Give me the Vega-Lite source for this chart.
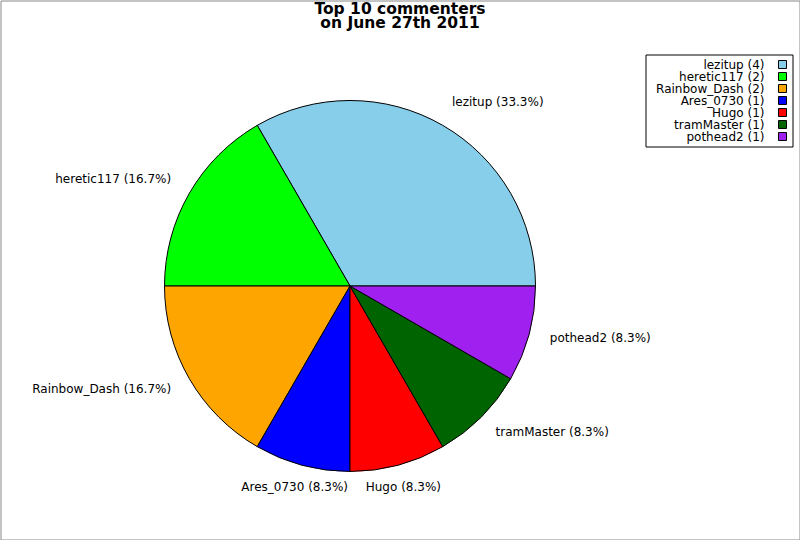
{
  "$schema": "https://vega.github.io/schema/vega-lite/v6.json",
  "width": 799,
  "height": 539,
  "padding": 0.5,
  "autosize": {"type": "none"},
  "background": "white",
  "view": {"stroke": "#888888", "strokeWidth": 1},
  "title": {
    "text": ["Top 10 commenters", "on June 27th 2011"],
    "font": "DejaVu Sans",
    "fontSize": 15.5,
    "fontWeight": "bold",
    "lineHeight": 14,
    "color": "black",
    "anchor": "middle",
    "frame": "group",
    "offset": -31
  },
  "data": {
    "values": [
      {"name": "lezitup", "count": 4, "rank": 1, "legend": "lezitup (4)", "label": "lezitup (33.3%)"},
      {"name": "heretic117", "count": 2, "rank": 2, "legend": "heretic117 (2)", "label": "heretic117 (16.7%)"},
      {"name": "Rainbow_Dash", "count": 2, "rank": 3, "legend": "Rainbow_Dash (2)", "label": "Rainbow_Dash (16.7%)"},
      {"name": "Ares_0730", "count": 1, "rank": 4, "legend": "Ares_0730 (1)", "label": "Ares_0730 (8.3%)"},
      {"name": "Hugo", "count": 1, "rank": 5, "legend": "Hugo (1)", "label": "Hugo (8.3%)"},
      {"name": "tramMaster", "count": 1, "rank": 6, "legend": "tramMaster (1)", "label": "tramMaster (8.3%)"},
      {"name": "pothead2", "count": 1, "rank": 7, "legend": "pothead2 (1)", "label": "pothead2 (8.3%)"}
    ]
  },
  "encoding": {
    "theta": {
      "field": "count",
      "type": "quantitative",
      "stack": true,
      "scale": {"range": [1.5707963, 7.8539816]}
    },
    "order": {"field": "rank", "sort": "descending"}
  },
  "layer": [
    {
      "mark": {"type": "arc", "outerRadius": 185.5, "stroke": "black", "strokeWidth": 1, "xOffset": -50, "yOffset": 16},
      "encoding": {
        "color": {
          "field": "legend",
          "type": "nominal",
          "scale": {
            "domain": ["lezitup (4)", "heretic117 (2)", "Rainbow_Dash (2)", "Ares_0730 (1)", "Hugo (1)", "tramMaster (1)", "pothead2 (1)"],
            "range": ["#87ceeb", "#00ff00", "#ffa500", "#0000ff", "#ff0000", "#006400", "#a020f0"]
          },
          "legend": {
            "title": null,
            "orient": "none",
            "legendX": 645,
            "legendY": 54,
            "symbolType": "square",
            "symbolSize": 64,
            "symbolStrokeColor": "black",
            "symbolStrokeWidth": 1,
            "symbolOpacity": 1,
            "symbolOffset": 127,
            "labelAlign": "right",
            "labelOffset": -24,
            "labelFont": "DejaVu Sans",
            "labelFontSize": 12,
            "labelColor": "black",
            "labelLimit": 300,
            "rowPadding": -2,
            "padding": 4,
            "strokeColor": "black",
            "fillColor": "white"
          }
        }
      }
    },
    {
      "mark": {"type": "text", "radius": 210, "xOffset": -50, "yOffset": 16, "dx": -3, "dy": -2, "align": "left", "baseline": "middle", "font": "DejaVu Sans", "fontSize": 12, "color": "black"},
      "encoding": {
        "text": {"condition": {"test": "indexof(['lezitup', 'tramMaster', 'pothead2'], datum.name) >= 0", "field": "label"}, "value": ""}
      }
    },
    {
      "mark": {"type": "text", "radius": 210, "xOffset": -50, "yOffset": 16, "dx": 3, "dy": -2, "align": "right", "baseline": "middle", "font": "DejaVu Sans", "fontSize": 12, "color": "black"},
      "encoding": {
        "text": {"condition": {"test": "indexof(['heretic117', 'Rainbow_Dash'], datum.name) >= 0", "field": "label"}, "value": ""}
      }
    },
    {
      "mark": {"type": "text", "radius": 210, "xOffset": -50, "yOffset": 16, "dx": -1, "dy": -2, "align": "center", "baseline": "middle", "font": "DejaVu Sans", "fontSize": 12, "color": "black"},
      "encoding": {
        "text": {"condition": {"test": "indexof(['Ares_0730', 'Hugo'], datum.name) >= 0", "field": "label"}, "value": ""}
      }
    }
  ]
}
